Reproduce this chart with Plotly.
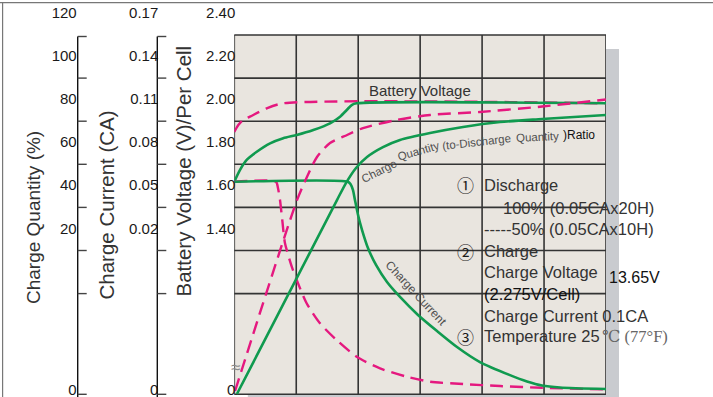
import plotly.graph_objects as go

# ---------------- data ----------------
# charging time (h): six grid columns of 4 h each
TIME_MAX = 24

# Battery voltage (V / cell): 100 % discharged (solid) and 50 % discharged (dashed)
volt100_t = [0.0, 0.37, 0.80, 1.45, 2.31, 3.16, 4.03, 5.10, 6.18, 6.83, 7.26, 7.58, 7.90, 24.0]
volt100_v = [1.616, 1.671, 1.717, 1.755, 1.794, 1.818, 1.833, 1.856, 1.887, 1.918, 1.949, 1.972, 1.980, 1.980]
volt50_t = [0.0, 0.26, 0.58, 1.01, 2.09, 3.16, 24.0]
volt50_v = [1.847, 1.879, 1.903, 1.918, 1.957, 1.980, 1.980]

# Charge quantity (%), read on the linear part of the left scale (bottom is the broken "0")
qty100_t = [0.17, 6.63, 7.21, 7.86, 8.57, 9.60, 10.70, 12.64, 14.77, 17.16, 19.87, 24.0]
qty100_q = [-56.9, 33.1, 41.0, 48.0, 53.1, 57.7, 61.0, 64.2, 67.0, 69.3, 70.7, 72.6]
qty50_t = [0.05, 4.05, 4.69, 5.34, 6.18, 7.28, 8.31, 10.51, 12.64, 15.87, 19.87, 24.0]
qty50_q = [-55.5, 33.1, 43.8, 53.1, 59.6, 63.3, 66.5, 70.3, 72.6, 74.0, 76.5, 79.8]

# Charge current (CA)
cur100_t = [0.0, 7.34, 7.50, 7.66, 7.79, 7.99, 8.25, 8.63, 9.15, 9.86, 10.70, 11.86, 13.09,
            14.38, 15.86, 17.80, 18.90, 19.87, 21.03, 24.0]
cur100_c = [0.0524, 0.0524, 0.0508, 0.0467, 0.0397, 0.0293, 0.0188, 0.0063, -0.0055, -0.0174,
            -0.0278, -0.0403, -0.0515, -0.0626, -0.0731, -0.0822, -0.0866, -0.0894, -0.0908, -0.0919]
cur50_t = [0.0, 2.69, 2.82, 2.95, 3.11, 3.27, 3.71, 4.03, 4.67, 5.53, 6.61, 7.90, 9.41, 11.13,
           12.64, 14.77, 17.16, 19.87, 24.0]
cur50_c = [0.0524, 0.0524, 0.0480, 0.0397, 0.0244, 0.0098, -0.0067, -0.0160, -0.0322, -0.0461,
           -0.0578, -0.0694, -0.0775, -0.0833, -0.0868, -0.0884, -0.0898, -0.0910, -0.0922]

# tick labels of the three left scales
QTY_TICKS = [20, 40, 60, 80, 100, 120]
CUR_TICKS = [0.02, 0.05, 0.08, 0.11, 0.14, 0.17]
CUR_TEXT = ["0.02", "0.05", "0.08", "0.11", "0.14", "0.17"]
VOLT_TICKS = [1.40, 1.60, 1.80, 2.00, 2.20, 2.40]
VOLT_TEXT = ["1.40", "1.60", "1.80", "2.00", "2.20", "2.40"]
BREAK_LABEL = "0"

# ---------------- layout calibration (pixels of the 713x397 page) ----------------
W, H = 713, 397
X0, X1 = 234.3, 606.0          # plot frame left / right
Y_TOP, Y_BOT = 35.0, 394.3      # plot frame top / bottom
ROW = 43.1                       # grid row height
LABEL_TOP = 12.8                 # pixel row of the "2.40 / 0.17 / 120" labels
BREAK_ROW = 389.5                # pixel row of the broken-axis "0" labels
QTY_AX_X, CUR_AX_X = 77.7, 157.3

def v_at(py):
    return 2.40 - (py - LABEL_TOP) / ROW * 0.2

def cur_of_v(v):
    return 0.17 - (2.40 - v) * 0.15

def qty_of_v(v):
    return 120 - (2.40 - v) * 100

v_break = v_at(BREAK_ROW)

def px(x):
    return x / W

def py(y):
    return 1 - y / H

GREEN = "#109a4f"
PINK = "#e5187f"
GRID = "#343434"
SANS = "Liberation Sans, Arial, sans-serif"
TXT = "#333333"

fig = go.Figure()
dash = "13px,7px"
fig.add_trace(go.Scatter(x=volt50_t, y=volt50_v, yaxis="y", mode="lines",
                         line=dict(color=PINK, width=2.4, dash=dash, shape="spline", smoothing=0.7)))
fig.add_trace(go.Scatter(x=qty50_t, y=qty50_q, yaxis="y3", mode="lines",
                         line=dict(color=PINK, width=2.4, dash=dash, shape="spline", smoothing=0.7)))
fig.add_trace(go.Scatter(x=cur50_t, y=cur50_c, yaxis="y2", mode="lines",
                         line=dict(color=PINK, width=2.4, dash=dash, shape="spline", smoothing=0.7)))
fig.add_trace(go.Scatter(x=volt100_t, y=volt100_v, yaxis="y", mode="lines",
                         line=dict(color=GREEN, width=2.6, shape="spline", smoothing=0.7)))
fig.add_trace(go.Scatter(x=qty100_t, y=qty100_q, yaxis="y3", mode="lines",
                         line=dict(color=GREEN, width=2.6, shape="spline", smoothing=0.7)))
fig.add_trace(go.Scatter(x=cur100_t, y=cur100_c, yaxis="y2", mode="lines",
                         line=dict(color=GREEN, width=2.6, shape="spline", smoothing=0.7)))

shapes = []
# outer frame of the picture
shapes.append(dict(type="line", xref="paper", yref="paper", x0=0, x1=1, y0=py(2.6), y1=py(2.6),
                   line=dict(color="#777777", width=1.2)))
shapes.append(dict(type="line", xref="paper", yref="paper", x0=px(2.6), x1=px(2.6), y0=py(2.6), y1=0,
                   line=dict(color="#777777", width=1.2)))
# drop shadow and panel
shapes.append(dict(type="rect", xref="paper", yref="paper", layer="below",
                   x0=px(X0 + 13.5), x1=px(X1 + 13), y0=py(Y_TOP + 14), y1=-0.05,
                   fillcolor="#c9cbcf", line=dict(width=0)))
shapes.append(dict(type="rect", xref="paper", yref="paper", layer="below",
                   x0=px(X0), x1=px(X1), y0=py(Y_TOP), y1=py(Y_BOT),
                   fillcolor="#e9e5df", line=dict(width=0)))
# grid
rows = [Y_TOP + ROW * k for k in range(7)] + [Y_BOT]
for r in rows:
    shapes.append(dict(type="line", xref="paper", yref="paper", layer="below",
                       x0=px(X0), x1=px(X1), y0=py(r), y1=py(r),
                       line=dict(color=GRID, width=1.6)))
for k in range(0, TIME_MAX + 1, 4):
    shapes.append(dict(type="line", xref="x", yref="paper", layer="below",
                       x0=k, x1=k, y0=py(Y_BOT), y1=py(Y_TOP),
                       line=dict(color=GRID, width=1.6)))
# the two free-standing left scales: spine + inward ticks
tick_rows = [Y_TOP + 1.5] + rows[1:]
for ax_x in (QTY_AX_X, CUR_AX_X):
    shapes.append(dict(type="line", xref="paper", yref="paper", x0=px(ax_x), x1=px(ax_x),
                       y0=py(Y_TOP + 1.5), y1=0, line=dict(color="#111111", width=1.4)))
    for r in tick_rows:
        shapes.append(dict(type="line", xref="paper", yref="paper", x0=px(ax_x), x1=px(ax_x + 9),
                           y0=py(r), y1=py(r), line=dict(color="#444444", width=1.4)))

def ann(text, x, y, size=16.5, color=TXT, xanchor="left", angle=0, family=SANS):
    return dict(text=text, x=px(x), y=py(y), xref="paper", yref="paper", xanchor=xanchor,
                yanchor="middle", showarrow=False, textangle=angle,
                font=dict(family=family, size=size, color=color))

CIRC = "Noto Sans CJK SC, DejaVu Sans, sans-serif"
LBL = "#505050"
annotations = [
    ann("Charge Quantity (%)", 33, 218, size=19, xanchor="center", angle=-90),
    ann("Charge Current (CA)", 106.5, 205, size=20.5, xanchor="center", angle=-90),
    ann("Battery Voltage (V)/Per Cell", 183.5, 171, size=20.5, xanchor="center", angle=-90),
    ann("Battery Voltage", 420, 90, size=15, xanchor="center"),
    ann("Charge", 379, 170.5, size=11.5, color=LBL, xanchor="center", angle=-27),
    ann("Quantity", 418.5, 151, size=11.5, color=LBL, xanchor="center", angle=-16),
    ann("(to-Discharge", 476.5, 142, size=11.5, color=LBL, xanchor="center", angle=-6.5),
    ann("Quantity", 537, 136.5, size=11.5, color=LBL, xanchor="center", angle=-3),
    ann(")Ratio", 579, 135, size=12, color="#111111", xanchor="center"),
    ann("Charge Current", 416, 292.5, size=12, color=LBL, xanchor="center", angle=47),
    ann("\u2460", 465, 185, size=17, color="#1a1a1a", xanchor="center", family=CIRC),
    ann("Discharge", 482, 185),
    ann("100% (0.05CAx20H)", 501, 208),
    ann("-----50% (0.05CAx10H)", 482, 229),
    ann("\u2461", 465, 251, size=17, color="#1a1a1a", xanchor="center", family=CIRC),
    ann("Charge", 482, 251),
    ann("Charge Voltage", 482, 272),
    ann("13.65V", 607, 277, size=16, color="#111111"),
    ann("(2.275V/Cell)", 482, 294, color="#111111"),
    ann("Charge Current 0.1CA", 482, 316),
    ann("\u2462", 465, 336, size=17, color="#1a1a1a", xanchor="center", family=CIRC),
    ann("Temperature 25", 482, 336),
    ann("\u2103 (77\u00b0F)", 600, 336, color="#666666", family="Liberation Serif, DejaVu Serif, serif"),
    ann("\u2248", 235, 367, size=17, color="#8a8a8a", xanchor="center"),
]

tickfont = dict(family=SANS, size=15, color="#1a1a1a")
common = dict(tickmode="array", ticks="", showgrid=False, zeroline=False, showline=False,
              automargin=False, tickfont=tickfont, ticklabeloverflow="allow", side="left")
fig.update_layout(
    template="none",
    width=W, height=H,
    margin=dict(l=0, r=0, t=0, b=0),
    paper_bgcolor="white", plot_bgcolor="rgba(0,0,0,0)",
    showlegend=False,
    xaxis=dict(domain=[px(X0), px(X1)], range=[0, TIME_MAX], visible=False, fixedrange=True),
    yaxis=dict(domain=[0, 1], range=[v_at(H), v_at(0)], anchor="x",
               tickvals=VOLT_TICKS + [v_break], ticktext=VOLT_TEXT + [BREAK_LABEL],
               ticklabelstandoff=-2, **common),
    yaxis2=dict(range=[cur_of_v(v_at(H)), cur_of_v(v_at(0))], overlaying="y", anchor="free",
                position=px(CUR_AX_X),
                tickvals=CUR_TICKS + [cur_of_v(v_break)], ticktext=CUR_TEXT + [BREAK_LABEL],
                ticklabelstandoff=-1, **common),
    yaxis3=dict(range=[qty_of_v(v_at(H)), qty_of_v(v_at(0))], overlaying="y", anchor="free",
                position=px(QTY_AX_X),
                tickvals=QTY_TICKS + [qty_of_v(v_break)],
                ticktext=[str(t) for t in QTY_TICKS] + [BREAK_LABEL],
                ticklabelstandoff=1, **common),
    shapes=shapes,
    annotations=annotations,
)

fig.write_html("out.html", config={"displayModeBar": False},
               post_script="document.body.style.margin='0';document.body.style.overflow='hidden';")
